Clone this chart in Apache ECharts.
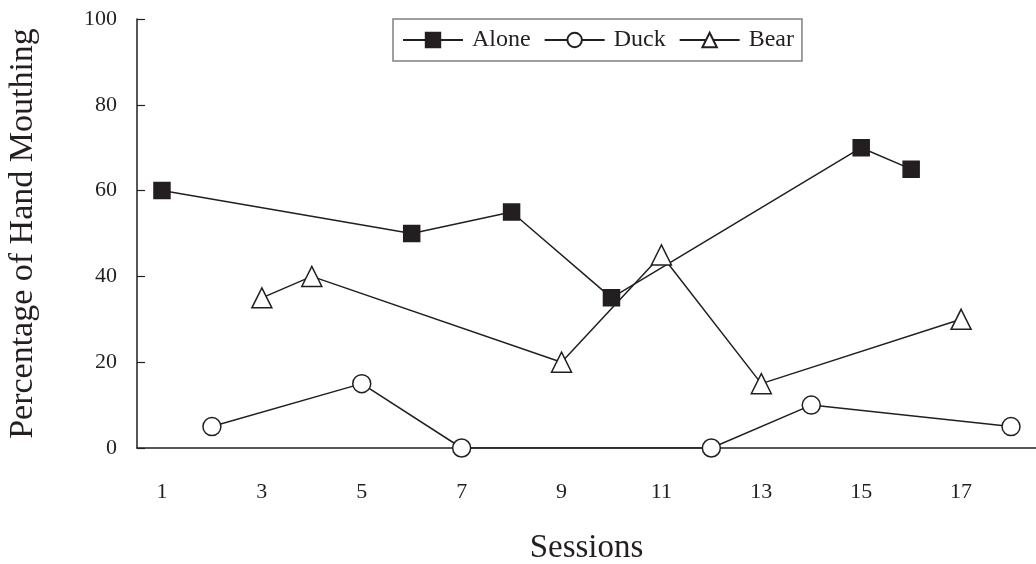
<!DOCTYPE html>
<html><head><meta charset="utf-8">
<script src="https://cdn.jsdelivr.net/npm/echarts@6/dist/echarts.min.js"></script>
<style>html,body{margin:0;padding:0;background:#fff}#c{width:1036px;height:564px}</style>
</head><body><div id="c"></div>
<script>
const sessions = ['1','2','3','4','5','6','7','8','9','10','11','12','13','14','15','16','17','18'];
const alone = [60,null,null,null,null,50,null,55,null,35,null,null,null,null,70,65,null,null];
const duck  = [null,5,null,null,15,null,0,null,null,null,null,0,null,10,null,null,null,5];
const bear  = [null,null,35,40,null,null,null,null,20,null,45,null,15,null,null,null,30,null];
const yTicks = [0,20,40,60,80,100];

const font = '"Liberation Serif", "Times New Roman", serif';
const ink = '#231f20';
const chart = echarts.init(document.getElementById('c'), null, {renderer:'canvas'});
function ser(name, data, symbol, size, fill) {
  return {
    name, type:'line', data, connectNulls:true, symbol, symbolSize:size,
    showAllSymbol:true,
    lineStyle:{color:ink, width:1.5},
    itemStyle:{color:fill, borderColor:ink, borderWidth:1.5, opacity:1},
    emphasis:{disabled:true}, animation:false
  };
}
chart.setOption({
  backgroundColor:'#fff',
  animation:false,
  textStyle:{fontFamily:font, color:ink},
  legend:{
    top:19, left:393, itemGap:13, itemWidth:60, itemHeight:18,
    padding:[9,8,9,9],
    borderColor:'#808080', borderWidth:1.5,
    textStyle:{fontFamily:font, fontSize:24, color:ink, padding:[0,0,0,4]},
    data:['Alone','Duck','Bear']
  },
  grid:{left:137, right:0, top:19, bottom:116, containLabel:false, outerBoundsMode:'none'},
  xAxis:{
    type:'category', data:sessions, boundaryGap:true,
    name:'Sessions', nameLocation:'middle', nameGap:84,
    nameTextStyle:{fontFamily:font, fontSize:33, color:ink},
    axisLine:{lineStyle:{color:ink, width:1.5}},
    axisTick:{inside:true, length:8, interval:0, lineStyle:{color:ink, width:1.2}},
    axisLabel:{interval:1, margin:33, fontFamily:font, fontSize:22, color:ink}
  },
  yAxis:{
    type:'value', min:0, max:100, interval:20,
    name:'Percentage of Hand Mouthing', nameLocation:'middle', nameGap:97,
    nameTextStyle:{fontFamily:font, fontSize:34, color:ink},
    axisLine:{show:true, lineStyle:{color:ink, width:1.5}},
    axisTick:{show:true, inside:true, length:8, lineStyle:{color:ink, width:1.2}},
    axisLabel:{margin:20, fontFamily:font, fontSize:22, color:ink},
    splitLine:{show:false}
  },
  series:[
    ser('Alone', alone, 'rect', 16, '#231f20'),
    ser('Duck', duck, 'circle', 18, '#ffffff'),
    ser('Bear', bear, 'triangle', 20, '#ffffff')
  ]
});
</script></body></html>
